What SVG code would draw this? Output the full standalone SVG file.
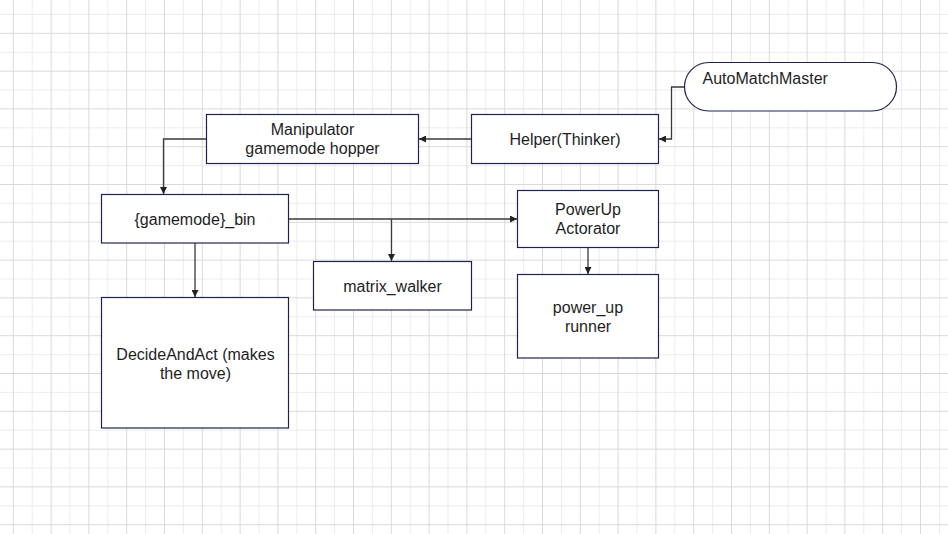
<svg xmlns="http://www.w3.org/2000/svg" width="948" height="534" viewBox="0 0 948 534">
<style>
.box{fill:#ffffff;stroke:#1f2250;stroke-width:1.2}
.lbl{font-family:"Liberation Sans",Arial,sans-serif;font-size:16px;fill:#1e1e1e;text-anchor:middle}
.edge{fill:none;stroke:#3a3a3a;stroke-width:1.3}
</style>
<defs>
<pattern id="grid" patternUnits="userSpaceOnUse" x="3.85" y="23.85" width="37.8" height="37.8">
<line x1="28.35" y1="0" x2="28.35" y2="37.8" stroke="#ececec" stroke-width="1"/>
<line x1="0" y1="28.35" x2="37.8" y2="28.35" stroke="#ececec" stroke-width="1"/>
<line x1="9.45" y1="0" x2="9.45" y2="37.8" stroke="#d9d9d9" stroke-width="1"/>
<line x1="0" y1="9.45" x2="37.8" y2="9.45" stroke="#d9d9d9" stroke-width="1"/>
</pattern>
<marker id="arr" viewBox="0 0 10 10" refX="10" refY="5" markerWidth="7" markerHeight="7" markerUnits="userSpaceOnUse" orient="auto">
<path d="M0,0 L10,5 L0,10 Z" fill="#222"/>
</marker>
</defs>
<rect x="0" y="0" width="948" height="534" fill="#ffffff"/>
<rect x="0" y="0" width="948" height="534" fill="url(#grid)"/>

<g id="connectors">
<path class="edge" d="M684.5,87 H671.5 V139 H659" marker-end="url(#arr)"/>
<path class="edge" d="M471.5,139 H419" marker-end="url(#arr)"/>
<path class="edge" d="M206.5,139 H163.5 V194" marker-end="url(#arr)"/>
<path class="edge" d="M288.5,219 H517" marker-end="url(#arr)"/>
<path class="edge" d="M391.5,219 V261" marker-end="url(#arr)"/>
<path class="edge" d="M195,243 V297" marker-end="url(#arr)"/>
<path class="edge" d="M588,247.5 V274" marker-end="url(#arr)"/>
</g>

<g id="automatchmaster">
<rect class="box" x="684.5" y="62.5" width="212" height="48.5" rx="24.25" ry="24.25"/>
<text class="lbl" x="702.5" y="84" style="text-anchor:start">AutoMatchMaster</text>
</g>

<g id="helper">
<rect class="box" x="471.5" y="114.5" width="187" height="49"/>
<text class="lbl" x="565" y="144.5">Helper(Thinker)</text>
</g>

<g id="manipulator">
<rect class="box" x="206.5" y="114.5" width="212" height="49"/>
<text class="lbl" x="312.5" y="135">Manipulator</text>
<text class="lbl" x="312.5" y="154">gamemode hopper</text>
</g>

<g id="gamemode_bin">
<rect class="box" x="101.5" y="194.5" width="187" height="48.5"/>
<text class="lbl" x="195" y="224.5">{gamemode}_bin</text>
</g>

<g id="matrix_walker">
<rect class="box" x="313.5" y="261.5" width="158" height="48.5"/>
<text class="lbl" x="392.5" y="291.5">matrix_walker</text>
</g>

<g id="powerup_actorator">
<rect class="box" x="517.5" y="190.5" width="141" height="57"/>
<text class="lbl" x="588" y="215">PowerUp</text>
<text class="lbl" x="588" y="234">Actorator</text>
</g>

<g id="power_up_runner">
<rect class="box" x="517.5" y="274.5" width="141" height="83.5"/>
<text class="lbl" x="588" y="313">power_up</text>
<text class="lbl" x="588" y="331.5">runner</text>
</g>

<g id="decide_and_act">
<rect class="box" x="101.5" y="297.5" width="187" height="130.5"/>
<text class="lbl" x="195.5" y="360">DecideAndAct (makes</text>
<text class="lbl" x="195.5" y="379">the move)</text>
</g>
</svg>
